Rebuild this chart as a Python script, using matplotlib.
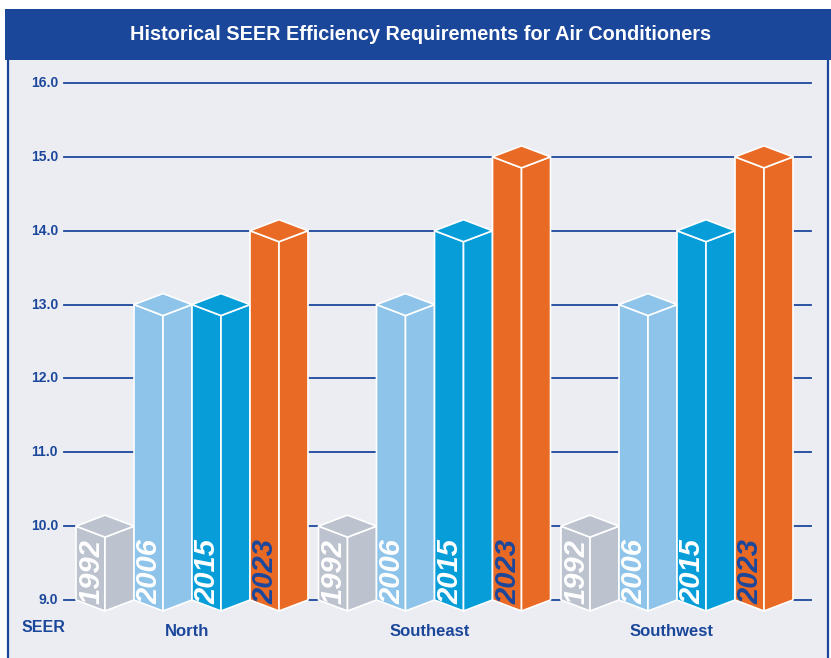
import matplotlib.pyplot as plt
from matplotlib.patches import Polygon, Rectangle

plt.switch_backend("Agg")
plt.rcParams["font.family"] = ["Liberation Sans", "DejaVu Sans"]

# -------------------------------------------------------------------
#  DATA
# -------------------------------------------------------------------
regions = ["North", "Southeast", "Southwest"]
years = ["1992", "2006", "2015", "2023"]
seer_1992 = [10.0, 10.0, 10.0]
seer_2006 = [13.0, 13.0, 13.0]
seer_2015 = [13.0, 14.0, 14.0]
seer_2023 = [14.0, 15.0, 15.0]
y_ticks = [9.0, 10.0, 11.0, 12.0, 13.0, 14.0, 15.0, 16.0]

title = "Historical SEER Efficiency Requirements for Air Conditioners"

# -------------------------------------------------------------------
#  STYLE
# -------------------------------------------------------------------
NAVY = "#1B479B"
PANEL = "#ECEDF3"
face_colors = ["#BCC2CE", "#8EC3EA", "#079DD9", "#E96A24"]
label_colors = ["white", "white", "white", "#1B479B"]

W, H = 831, 658
PX = 73.86          # pixels per SEER unit
BASE = 9.0          # value at the floor of the bars
BASE_PIX = 600      # pixel row of the floor
GROUP_X0 = 76
GROUP_PITCH = 242.5
BAR_W = 58
DEPTH = 11 / PX     # half-height of the top diamond


def py(pix):
    """pixel row -> data y"""
    return BASE + (BASE_PIX - pix) / PX


fig = plt.figure(figsize=(W / 100, H / 100), dpi=100)
ax = fig.add_axes([0, 0, 1, 1])
ax.set_xlim(0, W)
ax.set_ylim(py(H), py(0))
ax.axis("off")

# panel + header band
ax.add_patch(Rectangle((8, py(H)), 820, py(60) - py(H), facecolor=PANEL,
                       edgecolor="none", zorder=0))
ax.plot([8, 8], [py(60), py(H)], color=NAVY, lw=1.6, zorder=1)
ax.plot([828, 828], [py(60), py(H)], color=NAVY, lw=1.6, zorder=1)
ax.add_patch(Rectangle((5, py(60)), W - 5, py(9) - py(60), facecolor=NAVY,
                       edgecolor="none", zorder=1))
ax.text(421, py(35), title, color="white", fontsize=14.3, fontweight="bold",
        ha="center", va="center", zorder=2)

# gridlines + tick labels
for t in y_ticks:
    ax.plot([64, 811], [t, t], color=NAVY, lw=1.3, zorder=1)
    ax.text(58, t, f"{t:.1f}", color=NAVY, fontsize=10, fontweight="bold",
            ha="right", va="center", zorder=2)
ax.text(22, py(628), "SEER", color=NAVY, fontsize=11.5, fontweight="bold",
        ha="left", va="center", zorder=2)

# ------------------------------------------------------------
# 3D BARS
# ------------------------------------------------------------
series = [seer_1992, seer_2006, seer_2015, seer_2023]


def draw_box(x0, value, color):
    x1 = x0 + BAR_W
    xm = x0 + BAR_W / 2
    left = [(x0, value), (xm, value - DEPTH), (xm, BASE - DEPTH), (x0, BASE)]
    right = [(xm, value - DEPTH), (x1, value), (x1, BASE), (xm, BASE - DEPTH)]
    top = [(x0, value), (xm, value + DEPTH), (x1, value), (xm, value - DEPTH)]
    for pts in (left, right, top):
        ax.add_patch(Polygon(pts, closed=True, facecolor=color,
                             edgecolor="white", lw=1.2, joinstyle="round",
                             zorder=3))


for g, region in enumerate(regions):
    gx = GROUP_X0 + g * GROUP_PITCH
    for i, year in enumerate(years):
        x0 = gx + i * BAR_W
        draw_box(x0, series[i][g], face_colors[i])
        ax.text(x0 + BAR_W / 4 + 1, BASE - 0.06, year, rotation=90,
                color=label_colors[i], fontsize=21, fontweight="bold",
                fontstyle="italic", ha="center", va="bottom", zorder=4)
    ax.text(gx + 2 * BAR_W - 5, py(631), region, color=NAVY, fontsize=12,
            fontweight="bold", ha="center", va="center", zorder=2)

fig.savefig("out.png", dpi=100)
plt.close(fig)
print("[SAVED] out.png")
